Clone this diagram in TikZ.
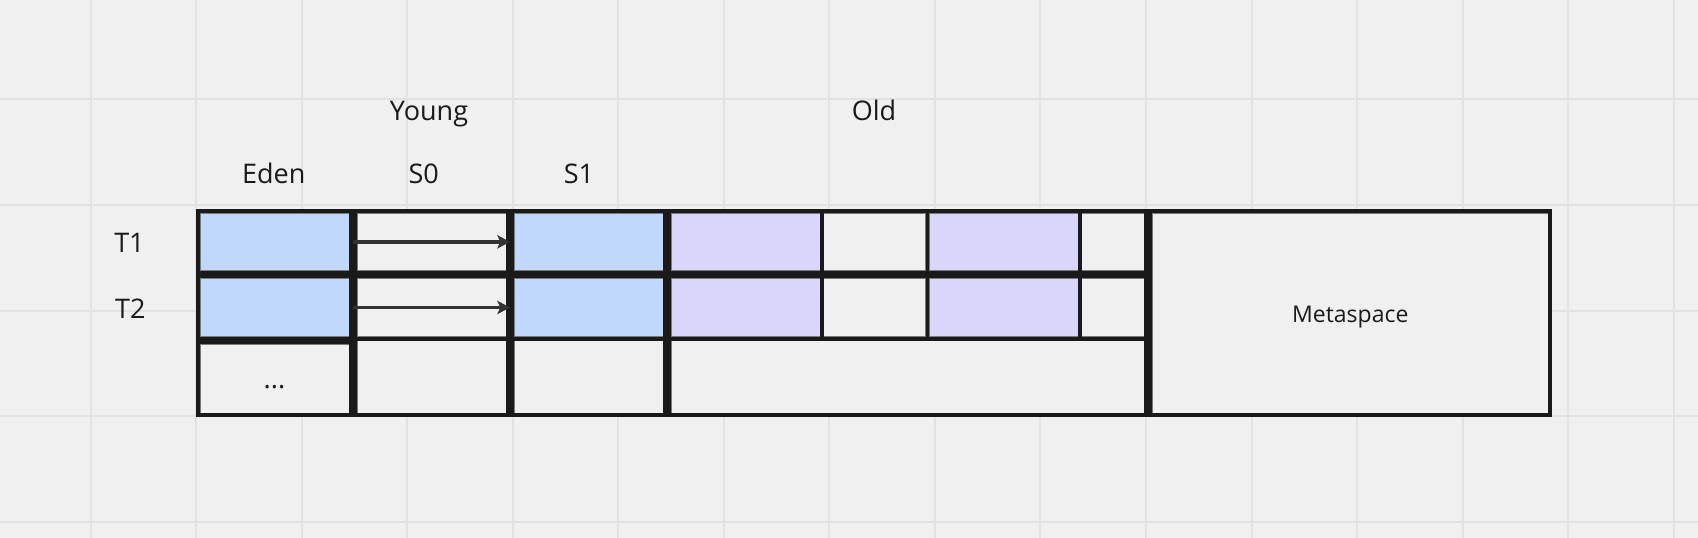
\documentclass[tikz,border=0pt]{standalone}
\usepackage{fontspec}
\setmainfont{Open Sans}
\usetikzlibrary{arrows.meta}
\definecolor{bg}{HTML}{F0F0F0}
\definecolor{gridc}{HTML}{E2E2E2}
\definecolor{ink}{HTML}{1A1A1A}
\definecolor{youngblue}{HTML}{C0D8FC}
\definecolor{oldpurple}{HTML}{DAD5FB}
\definecolor{arrowc}{HTML}{333333}
\definecolor{edgec}{HTML}{7A7A7A}
\tikzset{
  cell/.style={rectangle, inner sep=0pt, outer sep=0pt, draw=edgec, line width=1pt},
  ycell/.style={cell, fill=youngblue},
  ocell/.style={cell, fill=oldpurple},
  ecell/.style={cell, fill=bg},
  frameline/.style={draw=ink, line width=3.8pt},
  thickdiv/.style={draw=ink, line width=8pt},
  thindiv/.style={draw=ink, line width=3.5pt},
  flow/.style={draw=arrowc, line width=3.5pt, -{Stealth[length=12.7pt,width=13.3pt,inset=3pt]}, shorten <=4pt, shorten >=4pt},
  lbl/.style={anchor=base, inner sep=0pt, text=ink, font=\fontsize{27}{33}\selectfont},
  smalllbl/.style={anchor=base, inner sep=0pt, text=ink, font=\fontsize{23}{28}\selectfont},
  gridline/.style={draw=gridc, line width=2pt}
}
\begin{document}
\begin{tikzpicture}[x=1pt,y=-1pt]
\useasboundingbox (0,0) rectangle (1698,538);
\fill[bg] (0,0) rectangle (1698,538);
\foreach \i in {0,...,15} \draw[gridline] ({90.5+105.55*\i},0) -- ++(0,538);
\foreach \j in {0,...,4} \draw[gridline] (0,{99.4+105.6*\j}) -- ++(1698,0);

% cells
\node[ycell, minimum width=149pt, minimum height=57.7pt] (edenT1) at (274.5,241.85) {};
\node[ycell, minimum width=149pt, minimum height=58.4pt] (edenT2) at (274.5,307.5) {};
\node[ecell, minimum width=149pt, minimum height=69.3pt] (edenR3) at (274.5,378.65) {};
\node[ecell, minimum width=149pt, minimum height=57.7pt] (s0T1) at (431.5,241.85) {};
\node[ecell, minimum width=149pt, minimum height=58.4pt] (s0T2) at (431.5,307.5) {};
\node[ecell, minimum width=149pt, minimum height=72.6pt] (s0R3) at (431.5,377) {};
\node[ycell, minimum width=149pt, minimum height=57.7pt] (s1T1) at (588.5,241.85) {};
\node[ycell, minimum width=149pt, minimum height=58.4pt] (s1T2) at (588.5,307.5) {};
\node[ecell, minimum width=149pt, minimum height=72.6pt] (s1R3) at (588.5,377) {};
\node[ocell, minimum width=149pt, minimum height=57.7pt] (oldAT1) at (745.5,241.85) {};
\node[ecell, minimum width=102pt, minimum height=57.7pt] (oldBT1) at (874.5,241.85) {};
\node[ocell, minimum width=149pt, minimum height=57.7pt] (oldCT1) at (1003.5,241.85) {};
\node[ecell, minimum width=63pt, minimum height=57.7pt] (oldDT1) at (1113,241.85) {};
\node[ocell, minimum width=149pt, minimum height=58.4pt] (oldAT2) at (745.5,307.5) {};
\node[ecell, minimum width=102pt, minimum height=58.4pt] (oldBT2) at (874.5,307.5) {};
\node[ocell, minimum width=149pt, minimum height=58.4pt] (oldCT2) at (1003.5,307.5) {};
\node[ecell, minimum width=63pt, minimum height=58.4pt] (oldDT2) at (1113,307.5) {};
\node[ecell, minimum width=473.5pt, minimum height=72.6pt] (oldR3) at (907.75,377) {};
\node[ecell, minimum width=396pt, minimum height=200.3pt] (meta) at (1350.3,313.15) {};

% black structure lines
\draw[frameline] (198,211.2) rectangle (1550.2,415.3);
\foreach \x in {353,510,667,1148.4} \draw[thickdiv] (\x,211.2) -- (\x,415.3);
\draw[thickdiv, line width=7.6pt] (198,274.5) -- (1148.4,274.5);
\draw[thickdiv, line width=7.3pt] (198,340.3) -- (353,340.3);
\draw[thindiv, line width=4pt] (353,338.7) -- (1148.4,338.7);
\foreach \x in {821.75,927.25,1079.75} \draw[thindiv] (\x,211.2) -- (\x,338.7);

% arrows
\draw[flow] (edenT1.east) -- (s1T1.west);
\draw[flow] (edenT2.east) -- (s1T2.west);

% labels
\node[lbl] (young) at (429,120) {Young};
\node[lbl] (old) at (874,120) {Old};
\node[lbl] (eden) at (273.7,183.3) {Eden};
\node[lbl] (s0) at (423.8,183.3) {S0};
\node[lbl] (s1) at (579,183.3) {S1};
\node[lbl] (t1) at (129.5,252.7) {T1};
\node[lbl] (t2) at (130.3,318.3) {T2};
\node[lbl] (dots) at (274.5,388.5) {...};
\node[smalllbl] (metalabel) at (1350.3,322.7) {Metaspace};
\end{tikzpicture}
\end{document}
